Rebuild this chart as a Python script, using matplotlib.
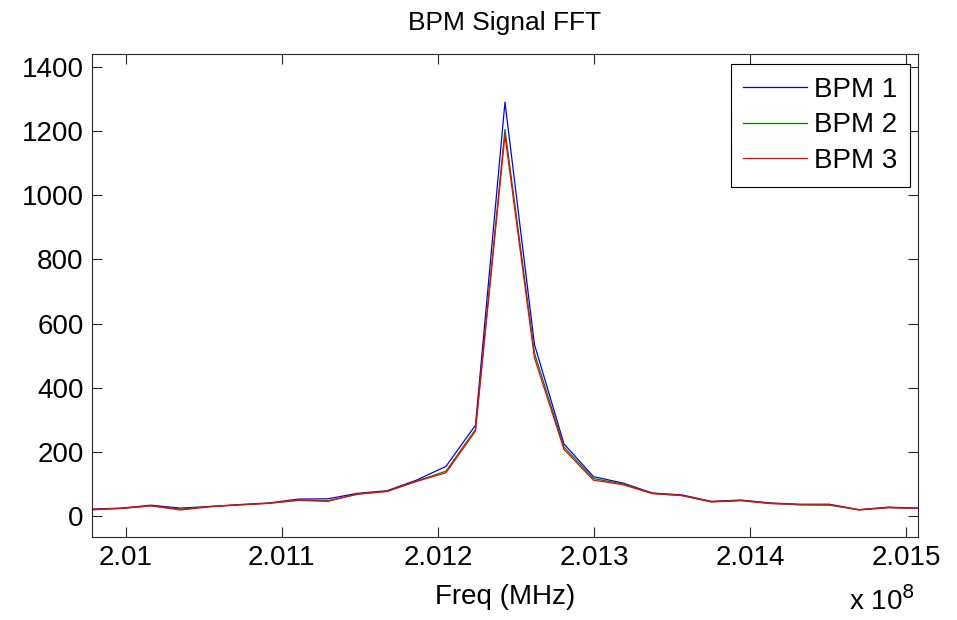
import numpy as np
import matplotlib
matplotlib.use("Agg")
import matplotlib.pyplot as plt
from matplotlib.ticker import FuncFormatter

plt.rcParams['font.family'] = ['Liberation Sans', 'DejaVu Sans']

# frequency bins (Hz)
freq = [2.009784e8, 2.009973e8, 2.010162e8, 2.010351e8, 2.010540e8, 2.010729e8,
        2.010918e8, 2.011107e8, 2.011296e8, 2.011485e8, 2.011674e8, 2.011863e8,
        2.012052e8, 2.012241e8, 2.012430e8, 2.012619e8, 2.012808e8, 2.012997e8,
        2.013186e8, 2.013375e8, 2.013564e8, 2.013753e8, 2.013942e8, 2.014131e8,
        2.014320e8, 2.014509e8, 2.014698e8, 2.014887e8, 2.015076e8]

bpm1 = [22, 25, 34, 25, 30, 36, 41, 53, 54, 71, 79, 112, 155, 283, 1290, 535,
        225, 123, 103, 72, 66, 46, 50, 41, 37, 37, 20, 28, 25]
bpm2 = [20, 24, 32, 22, 30, 35, 40, 49, 46, 69, 77, 109, 140, 270, 1205, 508,
        215, 117, 100, 71, 64, 45, 49, 40, 35, 34, 20, 27, 24]
bpm3 = [20, 24, 32, 19, 29, 35, 40, 50, 48, 68, 77, 108, 135, 265, 1187, 493,
        208, 112, 98, 70, 64, 44, 48, 39, 36, 36, 19, 26, 24]

xticks = [2.010e8, 2.011e8, 2.012e8, 2.013e8, 2.014e8, 2.015e8]
yticks = [0, 200, 400, 600, 800, 1000, 1200, 1400]

fs = 20

fig = plt.figure(figsize=(9.57, 6.2), dpi=100)
ax = fig.add_axes([0.0961, 0.1339, 0.8631, 0.779])

ax.plot(freq, bpm1, color=(0, 0, 1), lw=0.9, label='BPM 1')
ax.plot(freq, bpm2, color=(0, 0.5, 0), lw=0.9, label='BPM 2')
ax.plot(freq, bpm3, color=(1, 0, 0), lw=0.9, label='BPM 3')

ax.set_xlim(freq[0], freq[-1])
ax.set_ylim(-65, 1440)
ax.set_xticks(xticks)
ax.set_yticks(yticks)
ax.xaxis.set_major_formatter(FuncFormatter(lambda v, p: ('%.3f' % (v / 1e8)).rstrip('0')))

ax.tick_params(direction='in', length=7, width=0.8, top=True, right=True,
               labelsize=fs, colors='#262626', labelcolor='black', pad=6)
for s in ax.spines.values():
    s.set_color('#262626')
    s.set_linewidth(0.8)

ax.set_title('BPM Signal FFT', fontsize=19, pad=17)
ax.set_xlabel('Freq (MHz)', fontsize=fs, labelpad=9)
fig.text(0.887, 0.006, r'x 10$^{8}$', fontsize=fs, ha='left', va='bottom')

leg = ax.legend(loc='upper right', bbox_to_anchor=(0.990, 0.979), borderaxespad=0,
                fontsize=fs, handlelength=2.3, labelspacing=0.35, handletextpad=0.25,
                fancybox=False, framealpha=1, edgecolor='black', borderpad=0.45)
leg.get_frame().set_linewidth(0.8)

fig.savefig('out.png', dpi=100)
